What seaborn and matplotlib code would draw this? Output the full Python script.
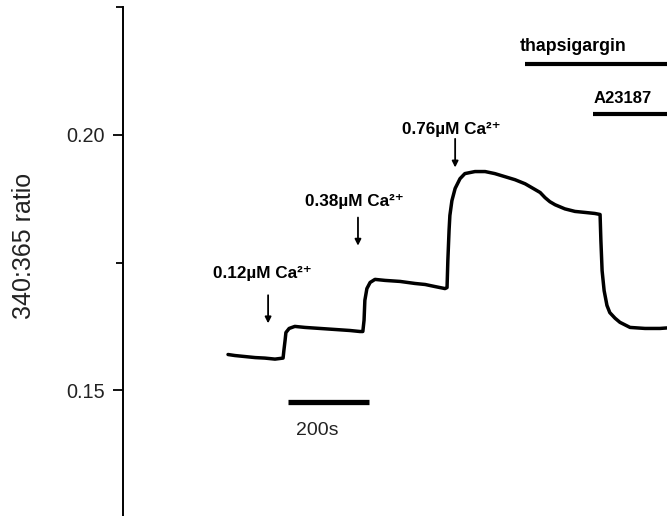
import matplotlib
matplotlib.use("Agg")
import matplotlib.pyplot as plt
import seaborn as sns
import pandas as pd

# Fura-2 ratio trace (time in s from start of recording)
time_s = [0, 17, 42, 67, 91, 116, 136,
          138, 141, 143, 151, 165, 190, 227, 264, 301, 326, 333,
          336, 338, 343, 351, 363, 388, 425, 462, 487, 511, 536, 541,
          543, 546, 548, 553, 561, 573, 585, 610, 635, 659, 684, 709, 734,
          758, 771, 783, 795, 808, 832, 857, 882, 906, 919,
          921, 924, 929, 936, 943, 956, 968, 993, 1030, 1067, 1084]
ratio = [0.1570, 0.1568, 0.1566, 0.1564, 0.1563, 0.1561, 0.1563,
         0.1578, 0.1598, 0.1613, 0.1621, 0.1625, 0.1623, 0.1621, 0.1619, 0.1617, 0.1615, 0.1615,
         0.1637, 0.1676, 0.1699, 0.1711, 0.1717, 0.1715, 0.1713, 0.1709, 0.1707, 0.1703, 0.1699, 0.1701,
         0.1754, 0.1813, 0.1842, 0.1871, 0.1895, 0.1914, 0.1924, 0.1928, 0.1928, 0.1924, 0.1918, 0.1912, 0.1904,
         0.1893, 0.1887, 0.1877, 0.1869, 0.1863, 0.1855, 0.1850, 0.1848, 0.1846, 0.1844,
         0.1793, 0.1734, 0.1695, 0.1666, 0.1652, 0.1641, 0.1633, 0.1623, 0.1621, 0.1621, 0.1622]

# Ca2+ additions: label, time of addition, arrow top / tip
ca_labels = ["0.12µM Ca²⁺", "0.38µM Ca²⁺", "0.76µM Ca²⁺"]
ca_times = [99, 321, 561]
arrow_top = [0.1686, 0.1838, 0.1992]
arrow_tip = [0.1631, 0.1783, 0.1936]
label_x = [-37, 190, 430]
label_y = [0.1719, 0.1861, 0.2002]

# drug application bars
drug_labels = ["thapsigargin", "A23187"]
drug_start = [734, 902]
drug_bar_y = [0.2139, 0.2041]
drug_text_x = [721, 902]
drug_text_y = [0.2164, 0.2063]
drug_fontsize = [12.8, 12]

scale_start, scale_len = 148, 200
yticks_major = [0.15, 0.20]
yticks_minor = [0.175, 0.225]

sns.set_theme(style="ticks")
plt.rcParams["font.family"] = ["Liberation Sans", "DejaVu Sans"]

fig = plt.figure(figsize=(6.67, 5.16), dpi=100)
ax = fig.add_axes([123 / 667, 0.0, 1 - 123 / 667, 509 / 516])

df = pd.DataFrame({"time": time_s, "ratio": ratio})
sns.lineplot(data=df, x="time", y="ratio", color="black", lw=2.5, ax=ax)

ax.set_xlim(-259.4, 1084.3)
ax.set_ylim(0.1254, 0.225)

for s in ["top", "right", "bottom"]:
    ax.spines[s].set_visible(False)
ax.spines["left"].set_linewidth(1.4)
ax.spines["left"].set_color("black")
ax.set_xticks([])
ax.set_xlabel("")

ax.set_yticks(yticks_major)
ax.set_yticklabels([f"{v:.2f}" for v in yticks_major])
ax.set_yticks(yticks_minor, minor=True)
ax.tick_params(axis="y", which="major", length=7, width=1.3, color="black",
               labelsize=14.3, pad=6, labelcolor="#222222")
ax.tick_params(axis="y", which="minor", length=5, width=1.3, color="black")

ax.set_ylabel("340:365 ratio", fontsize=18, color="#222222")
ax.yaxis.set_label_coords(-0.182, 0.53)
ax.yaxis.label.set_verticalalignment("center")

for lab, t, top, tip, lx, ly in zip(ca_labels, ca_times, arrow_top, arrow_tip, label_x, label_y):
    ax.text(lx, ly, lab, fontsize=12.3, fontweight="bold",
            ha="left", va="baseline", color="black")
    ax.annotate("", xy=(t, tip), xytext=(t, top),
                arrowprops=dict(arrowstyle="-|>", lw=1.3, color="black",
                                mutation_scale=9, shrinkA=0, shrinkB=0))

for lab, x0, by, tx, ty, fs in zip(drug_labels, drug_start, drug_bar_y,
                                   drug_text_x, drug_text_y, drug_fontsize):
    ax.plot([x0, 1100], [by, by], color="black", lw=3, solid_capstyle="butt", clip_on=True)
    ax.text(tx, ty, lab, fontsize=fs, fontweight="bold", ha="left", va="baseline", color="black")

ax.plot([scale_start, scale_start + scale_len], [0.1477, 0.1477], color="black", lw=3.8,
        solid_capstyle="butt")
ax.text(168, 0.1412, f"{scale_len}s", fontsize=14, ha="left", va="baseline", color="#222222")

fig.savefig("out.png", dpi=100)
